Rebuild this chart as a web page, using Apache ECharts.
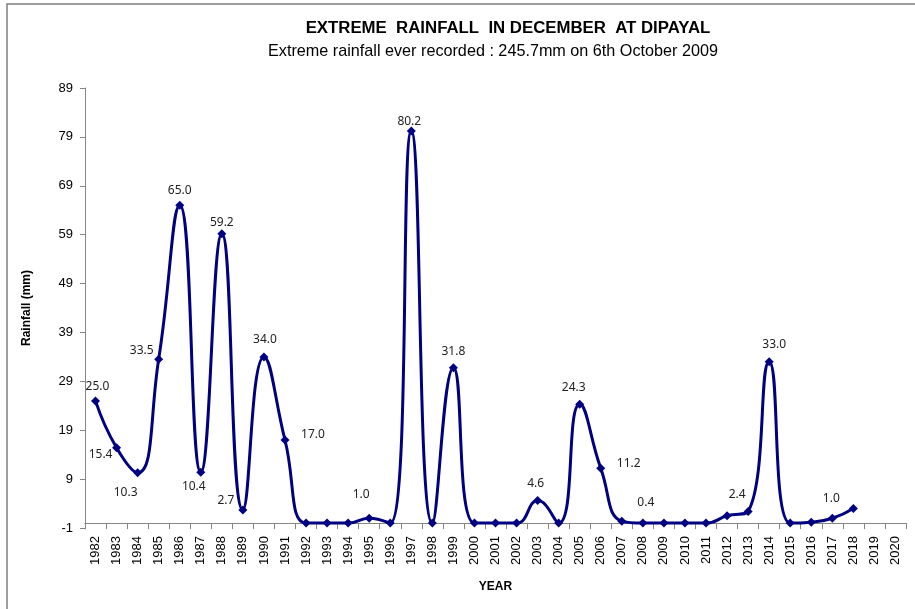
<!DOCTYPE html>
<html><head><meta charset="utf-8">
<script src="https://cdn.jsdelivr.net/npm/echarts@6/dist/echarts.min.js"></script>
<style>html,body{margin:0;padding:0;background:#fff}#c{width:915px;height:609px}</style>
</head><body><div id="c"></div>
<script>
const years = ['1982','1983','1984','1985','1986','1987','1988','1989','1990','1991','1992','1993','1994','1995','1996','1997','1998','1999','2000','2001','2002','2003','2004','2005','2006','2007','2008','2009','2010','2011','2012','2013','2014','2015','2016','2017','2018','2019','2020'];
const rainfall = [25.0,15.4,10.3,33.5,65.0,10.4,59.2,2.7,34.0,17.0,0,0,0,1.0,0,80.2,0,31.8,0,0,0,4.6,0,24.3,11.2,0.4,0,0,0,0,1.5,2.4,33.0,0,0.2,1.0,3.0,null,null];
const labeledYears = ['1982','1983','1984','1985','1986','1987','1988','1989','1990','1991','1995','1997','1999','2003','2005','2006','2007','2013','2014','2017'];
const yTicks = [-1,9,19,29,39,49,59,69,79,89];
const titleText = 'EXTREME  RAINFALL  IN DECEMBER  AT DIPAYAL';
const subtitleText = 'Extreme rainfall ever recorded : 245.7mm on 6th October 2009';
const xName = 'YEAR';
const yName = 'Rainfall (mm)';

// label placement (style only): offset of label centre from the point
const labelOffset = {
  '1982':[2,-14],'1983':[-16,7],'1984':[-12,20],'1985':[-17,-9],'1986':[0,-15],
  '1987':[-7,14],'1988':[0,-11],'1989':[-17,-9],'1990':[1,-17],'1991':[28,-5],
  '1995':[-8,-24],'1997':[-2,-9],'1999':[0,-16],'2003':[-2,-17],'2005':[-6,-17],
  '2006':[28,-5],'2007':[24,-19],'2013':[-11,-17],'2014':[5,-17],'2017':[-1,-20]
};

const seriesData = rainfall.map((v, i) => {
  const y = years[i];
  const item = { value: v };
  if (labeledYears.includes(y)) {
    item.label = {
      show: true, position: 'inside', offset: labelOffset[y] || [0, -14],
      align: 'center', verticalAlign: 'middle',
      fontFamily: 'Noto Sans', fontSize: 12, color: '#222',
      formatter: p => Number(p.value).toFixed(1)
    };
  }
  return item;
});

const axisColor = '#868686';
const chart = echarts.init(document.getElementById('c'), null, { renderer: 'canvas' });
chart.setOption({
  animation: false,
  backgroundColor: '#fff',
  graphic: [{
    type: 'rect', shape: { x: 7, y: 4, width: 930, height: 640 },
    style: { fill: 'none', stroke: '#7f7f7f', lineWidth: 1.5 }, silent: true
  }],
  title: [
    { text: titleText, left: 503, top: 15, textAlign: 'center',
      textStyle: { fontFamily: 'Liberation Sans', fontWeight: 'bold', fontSize: 16.8, color: '#000' } },
    { text: subtitleText, left: 488, top: 39, textAlign: 'center',
      textStyle: { fontFamily: 'Liberation Sans', fontWeight: 'normal', fontSize: 16.2, color: '#000' } }
  ],
  grid: { left: 85, right: 9, top: 88, bottom: 81, containLabel: false },
  xAxis: {
    type: 'category', data: years, boundaryGap: true,
    name: xName, nameLocation: 'middle', nameGap: 53,
    nameTextStyle: { fontFamily: 'Liberation Sans', fontWeight: 'bold', fontSize: 12, color: '#000' },
    axisLine: { onZero: true, lineStyle: { color: axisColor, width: 1 } },
    axisTick: { show: true, interval: 0, alignWithLabel: false, length: 6, lineStyle: { color: axisColor } },
    axisLabel: { interval: 0, rotate: 90, margin: 8, fontFamily: 'Liberation Sans', fontSize: 13, color: '#000' },
    splitLine: { show: false }
  },
  yAxis: {
    type: 'value', min: -1, max: 89,
    name: yName, nameLocation: 'middle', nameGap: 52,
    nameTextStyle: { fontFamily: 'Liberation Sans', fontWeight: 'bold', fontSize: 12, color: '#000' },
    axisLine: { show: true, lineStyle: { color: axisColor, width: 1 } },
    axisTick: { show: true, length: 5, customValues: yTicks, lineStyle: { color: axisColor } },
    axisLabel: { customValues: yTicks, margin: 12, fontFamily: 'Liberation Sans', fontSize: 13, color: '#000' },
    splitLine: { show: false }
  },
  series: [{
    type: 'line', data: seriesData, smooth: 0.5,
    symbol: 'diamond', symbolSize: 9,
    lineStyle: { color: '#000080', width: 3 },
    itemStyle: { color: '#000080' },
    label: { show: false }
  }]
});
</script>
</body></html>
